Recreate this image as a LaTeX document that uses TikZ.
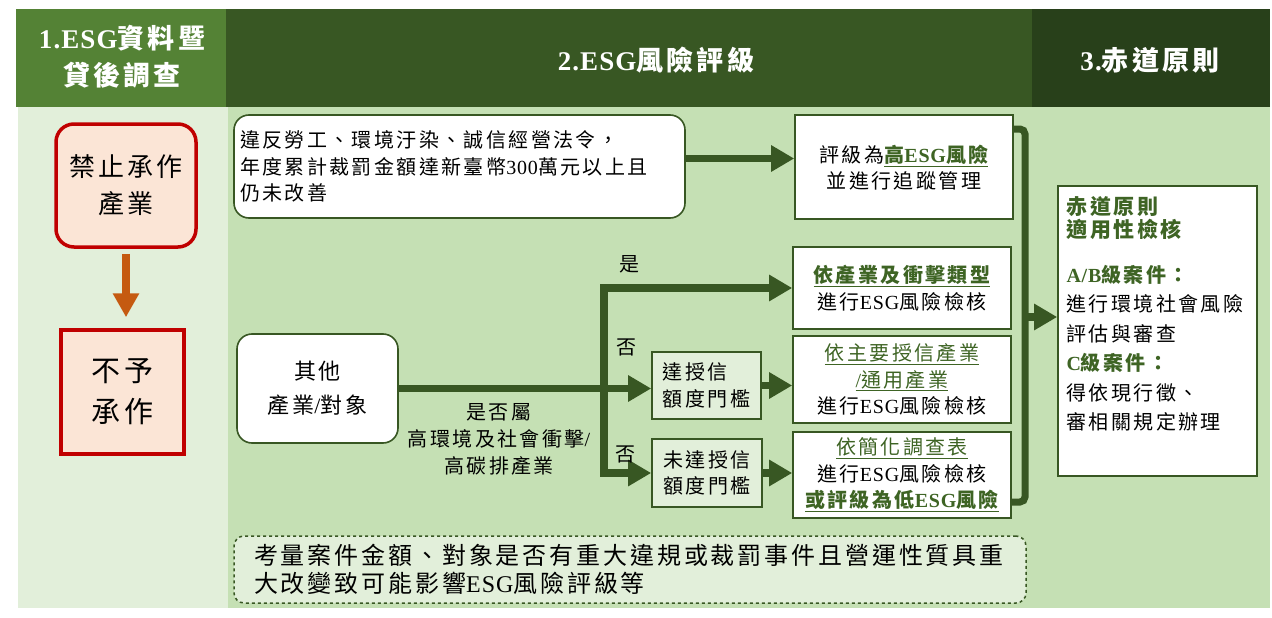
\documentclass[tikz,border=0pt]{standalone}
\usepackage{fontspec}
\setmainfont{Noto Sans CJK TC}[LetterSpace=12]
\newfontfamily\tnr{Liberation Serif}[LetterSpace=4]
\newcommand\en[1]{{\tnr #1}}
\usepackage{xcolor}
\usetikzlibrary{positioning,arrows.meta,calc}
\definecolor{hdrlight}{RGB}{84,130,53}
\definecolor{hdrmid}{RGB}{56,87,35}
\definecolor{hdrdark}{RGB}{40,64,26}
\definecolor{paneleft}{RGB}{226,239,218}
\definecolor{panemain}{RGB}{197,224,180}
\definecolor{esgline}{RGB}{56,87,35}
\definecolor{esgtext}{RGB}{62,100,36}
\definecolor{banred}{RGB}{192,0,0}
\definecolor{banfill}{RGB}{251,229,214}
\definecolor{banarrowc}{RGB}{197,90,17}
\newcommand\hl[1]{\textcolor{esgtext}{\bfseries\underline{#1}}}
\newcommand\hlr[1]{\textcolor{esgtext}{\underline{#1}}}
\newcommand\bodyfont{\fontsize{20}{26.5}\selectfont}
\tikzset{
  colhead/.style={text=white, font=\bfseries\fontsize{27}{37}\selectfont, align=center, inner sep=0pt},
  banbox/.style={draw=banred, line width=3.5pt, fill=banfill, align=center, inner sep=0pt},
  infobox/.style={draw=esgline, line width=1.6pt, fill=white, font=\bodyfont, align=center, inner sep=0pt},
  roundinfo/.style={infobox, rounded corners=15pt},
  gatebox/.style={infobox, fill=paneleft, align=left},
  notebox/.style={draw=esgline, line width=1.5pt, dashed, fill=paneleft, rounded corners=10pt,
                  font=\fontsize{24}{28}\selectfont, align=left, inner xsep=20pt, inner ysep=0pt},
  lbl/.style={font=\bodyfont, align=center, inner sep=0pt},
  flow/.style={draw=esgline, line width=7.5pt, -{Triangle[length=23pt,width=25pt]}},
  bracket/.style={draw=esgline, line width=7pt, rounded corners=5pt},
  banflow/.style={draw=banarrowc, line width=8pt, -{Triangle[length=24pt,width=25pt]}}
}

\begin{document}
\begin{tikzpicture}[x=1pt, y=-1pt]
\useasboundingbox (0,0) rectangle (1272,618);
\fill[white] (0,0) rectangle (1272,618);
\fill[paneleft] (18,107) rectangle (228,608);
\fill[panemain] (228,107) rectangle (1270,608);
\fill[hdrlight] (16,9) rectangle (226,107);
\fill[hdrmid] (226,9) rectangle (1032,107);
\fill[hdrdark] (1032,9) rectangle (1270,107);
\node (t1) [colhead] at (122,57) {\en{1.ESG}資料暨\\貸後調查};
\node (t2) [colhead] at (656,60) {\en{2.ESG}風險評級};
\node (t3) [colhead] at (1150,60) {\en{3.}赤道原則};

\node (ban) [banbox, rounded corners=18pt, minimum width=140pt, minimum height=123pt, font=\fontsize{26}{37}\selectfont] at (126,185.5) {禁止承作\\產業};
\node (rej) [banbox, minimum width=123pt, minimum height=124pt, font=\fontsize{29}{41}\selectfont] at (122.5,392) {不予\\承作};
\draw[banflow, shorten <=5pt, shorten >=11pt] (ban.south) -- (ban.south |- rej.north);

\node (viol) [roundinfo, align=left, text width=439pt, minimum height=103pt, inner xsep=6pt] at (459.5,166.5) {違反勞工、環境汙染、誠信經營法令，\\年度累計裁罰金額達新臺幣\en{300}萬元以上且\\仍未改善};
\node (high) [infobox, minimum width=218pt, minimum height=104pt, text depth=0pt] at (904,167) {評級為\hl{高\en{ESG}風險}\\並進行追蹤管理};
\draw[flow] ($(viol.east)+(0,-8)$) coordinate (va) -- (va -| high.west);

\node (other) [roundinfo, minimum width=161pt, minimum height=109pt, font=\fontsize{22}{34}\selectfont] at (317.5,388.5) {其他\\產業\en{/}對象};
\node (gate1) [gatebox, minimum width=109pt, minimum height=67pt] at (706.5,385.5) {達授信\\額度門檻};
\node (gate2) [gatebox, minimum width=110pt, minimum height=68pt] at (707,473) {未達授信\\額度門檻};
\node (byind) [infobox, minimum width=218pt, minimum height=82pt] at (902,288) {\hl{依產業及衝擊類型}\\進行\en{ESG}風險檢核};
\node (bymain) [infobox, minimum width=218pt, minimum height=87pt] at (902,379.5) {\hlr{依主要授信產業}\\\hlr{\en{/}通用產業}\\進行\en{ESG}風險檢核};
\node (bysimple) [infobox, minimum width=218pt, minimum height=86pt] at (902,475) {\hlr{依簡化調查表}\\進行\en{ESG}風險檢核\\\hl{或評級為低\en{ESG}風險}};

\coordinate (split) at (604,388.5);
\draw[flow] (other.east) -- (other.east -| gate1.west);
\draw[flow] (split) |- (byind.west);
\draw[flow] (split) |- (gate2.west);
\draw[flow] (gate1.east) -- (gate1.east -| bymain.west);
\draw[flow] (gate2.east) -- (gate2.east -| bysimple.west);
\node (yes) [lbl] at (629,264) {是};
\node (no1) [lbl] at (626,347) {否};
\node (no2) [lbl] at (625,454) {否};
\node (ask) [lbl, font=\fontsize{20}{27}\selectfont] at (499,439) {是否屬\\高環境及社會衝擊\en{/}\\高碳排產業};

\node (ep) [infobox, inner xsep=8.5pt, inner ysep=8pt] at (1157.5,331) {\parbox[c][274pt][t]{182pt}{\raggedright\fontsize{20}{29.5}\selectfont
\vspace*{3pt}{\color{esgtext}\bfseries\fontsize{21}{23}\selectfont 赤道原則\\適用性檢核\par}
\vspace{15pt}
{\color{esgtext}\bfseries\en{A/B}級案件：}\\
進行環境社會風險\\
評估與審查\\
{\color{esgtext}\bfseries\en{C}級案件：}\\
得依現行徵、\\
審相關規定辦理}};
\coordinate (bt) at (1025,129);
\coordinate (bb) at (1025,502);
\draw[bracket] (high.east |- bt) -- (bt) -- (bb) -- (bysimple.east |- bb);
\coordinate (join) at (1025,317);
\draw[flow] (join) -- (join -| ep.west);

\node (note) [notebox, text width=752pt, minimum height=67pt] at (630,569.5) {考量案件金額、對象是否有重大違規或裁罰事件且營運性質具重\\大改變致可能影響\en{ESG}風險評級等};
\end{tikzpicture}
\end{document}
